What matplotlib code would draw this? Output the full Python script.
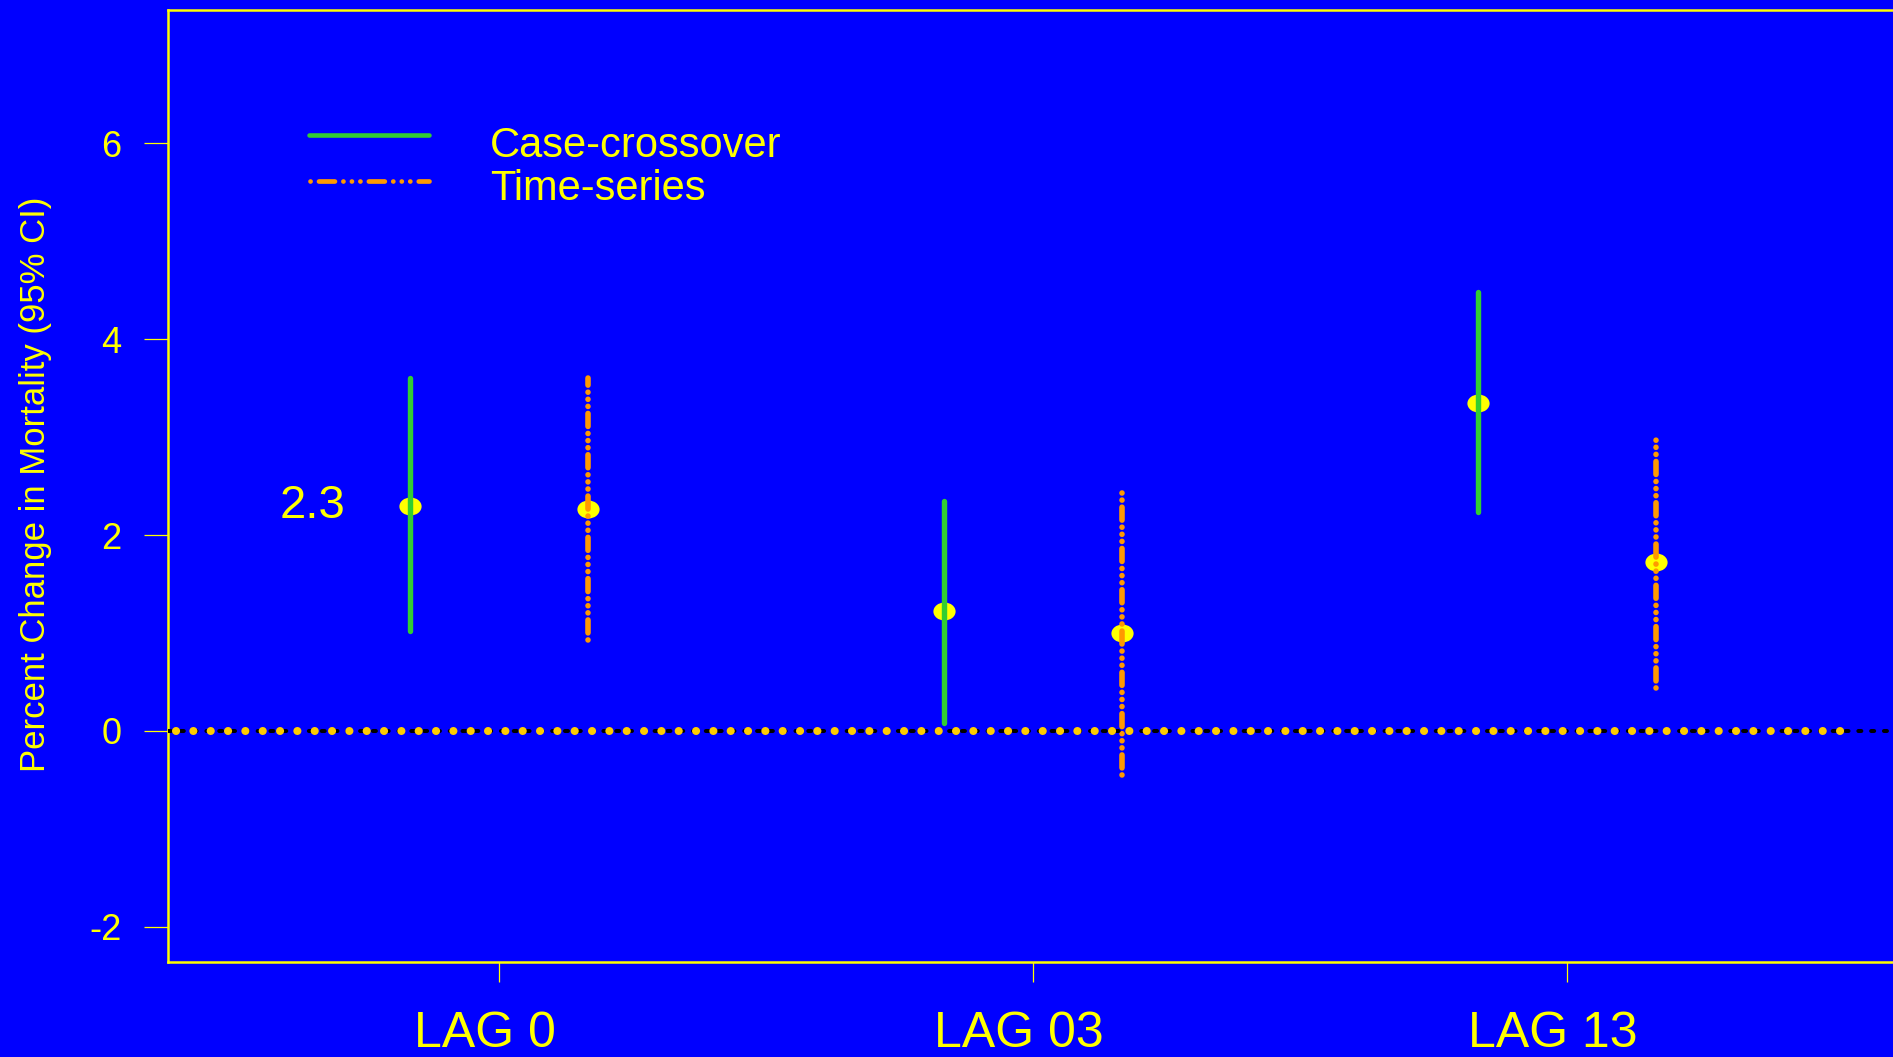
import numpy as np
import matplotlib
matplotlib.use('Agg')
import matplotlib.pyplot as plt
from matplotlib.path import Path
from matplotlib.transforms import Affine2D, ScaledTranslation

# data
lags = ["LAG 0", "LAG 03", "LAG 13"]
x_group = np.array([1.5, 4.5, 7.5])

cc_est = [2.30, 1.22, 3.35]
cc_lo = [1.02, 0.08, 2.23]
cc_hi = [3.60, 2.35, 4.48]

ts_est = [2.26, 1.00, 1.72]
ts_lo = [0.93, -0.45, 0.44]
ts_hi = [3.60, 2.47, 3.02]

yticks = [-2, 0, 2, 4, 6]

BLUE = '#0000FF'
YEL = '#FFFF00'
GREEN = '#32CD32'
ORANGE = '#FF9900'
GOLD = '#FFCC00'

plt.rcParams['font.family'] = ['Liberation Sans', 'DejaVu Sans']
plt.rcParams['lines.scale_dashes'] = False

W, H = 1893, 1057
fig = plt.figure(figsize=(W / 100, H / 100 + 0.001), dpi=100, facecolor=BLUE)
# right edge of the plot box falls just outside the picture, as in the reference
ax = fig.add_axes([168 / W, 1 - 962 / H, 1730 / W, 952 / H], facecolor=BLUE)

x_cc = x_group - 0.5
x_ts = x_group + 0.5

ts_dash = (0, (0.07, 5.04, 9.36, 5.04, 0.07, 5.04, 0.07, 5.04))
ellipse = Path.unit_circle().transformed(Affine2D().scale(1, 17 / 21))

# point estimates (under the CI lines)
ax.plot(x_cc, cc_est, ls='none', marker=ellipse, ms=16, mew=0, color=YEL, zorder=2)
ax.plot(x_ts, ts_est, ls='none', marker=ellipse, ms=16, mew=0, color=YEL, zorder=2)

for x, lo, hi in zip(x_cc, cc_lo, cc_hi):
    ax.plot([x, x], [lo, hi], color=GREEN, lw=3.9, solid_capstyle='round', zorder=3)
for x, lo, hi in zip(x_ts, ts_lo, ts_hi):
    ax.plot([x, x], [lo, hi], color=ORANGE, lw=4.0, ls=ts_dash,
            dash_capstyle='round', zorder=3)

# zero reference: black dotted line with gold dots on top
ax.axhline(0, color='black', lw=2.9, ls=(0, (2.16, 7.06)), dash_capstyle='round', zorder=4)
ax.axhline(0, xmin=0.0046, xmax=0.967, color=GOLD, lw=5.8, ls=(0, (0.07, 12.41)),
           dash_capstyle='round', zorder=5)

ax.text(0.45, cc_est[0], f"{cc_est[0]:.1f}", fontsize=34, color=YEL,
        ha='center', va='center', zorder=6)

# legend drawn by hand to match the original placement
ax.plot([0.0815, 0.1509], [0.8687, 0.8687], transform=ax.transAxes, color=GREEN,
        lw=3.3, solid_capstyle='round')
ax.plot([0.0821, 0.1509], [0.8204, 0.8204], transform=ax.transAxes, color=ORANGE,
        lw=3.4, ls=(0, (0.07, 6.05, 11.5, 6.05, 0.07, 6.05, 0.07, 6.05)),
        dash_capstyle='round')
ax.text(0.1861, 0.8456, "Case-crossover", transform=ax.transAxes, fontsize=30,
        color=YEL, va='baseline')
ax.text(0.1861, 0.8004, "Time-series", transform=ax.transAxes, fontsize=30,
        color=YEL, va='baseline')

ax.set_xlim(-0.36, 9.36)
ax.set_ylim(-2.36, 7.36)
ax.set_xticks(x_group)
ax.set_xticklabels(lags)
ax.set_yticks(yticks)
ax.set_yticklabels([str(v) for v in yticks])

ax.tick_params(axis='x', length=14.4, width=0.9, color=YEL, labelcolor=YEL,
               labelsize=36, pad=20.5)
ax.tick_params(axis='y', length=17, width=0.9, color=YEL, labelcolor=YEL,
               labelsize=26, pad=16.5)
shift = ScaledTranslation(-0.14, 0, fig.dpi_scale_trans)
for lab in ax.get_xticklabels():
    lab.set_transform(lab.get_transform() + shift)

for sp in ax.spines.values():
    sp.set_color(YEL)
    sp.set_linewidth(1.8)

ax.set_ylabel("Percent Change in Mortality (95% CI)", color=YEL, fontsize=25)
ax.yaxis.set_label_coords(52 / W, 1 - 484 / H, transform=fig.transFigure)

fig.savefig('out.png', dpi=100, facecolor=BLUE)
